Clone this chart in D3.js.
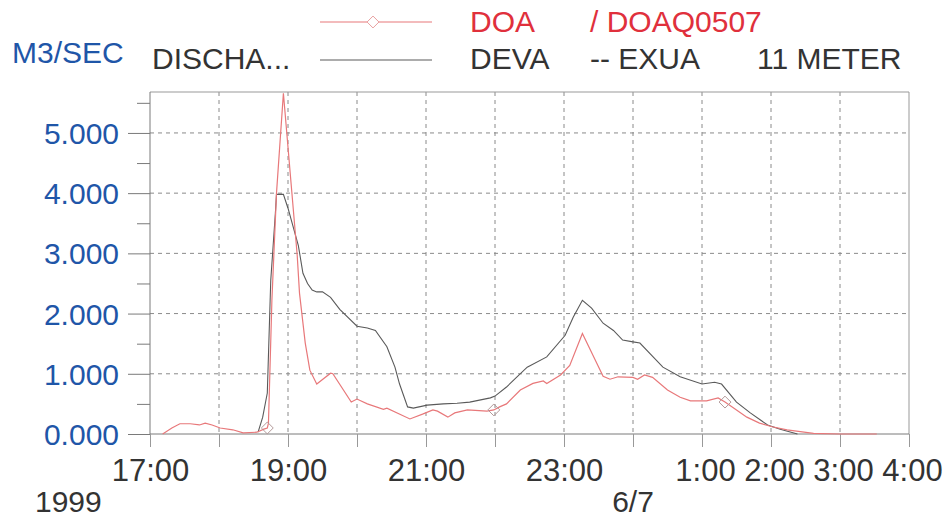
<!DOCTYPE html>
<html><head><meta charset="utf-8">
<script src="https://cdn.jsdelivr.net/npm/d3@7"></script>
<style>
body{margin:0;background:#fff}
text{font-family:"Liberation Sans",Arial,Helvetica,sans-serif}
</style>
</head><body>
<svg id="c" width="943" height="520"></svg>
<script>
// ---- data (thousand m3/s) ----
const doaTimes = ["17:11","17:19","17:26","17:35","17:43","17:48","17:54","18:01","18:12","18:21","18:33","18:39","18:42","18:43","18:46","18:50","18:56","19:08","19:10","19:15","19:19","19:25","19:37","19:39","19:55","20:00","20:09","20:23","20:26","20:46","20:57","21:06","21:10","21:19","21:25","21:36","21:53","21:59","22:04","22:10","22:22","22:33","22:42","22:45","22:57","23:05","23:16","23:34","23:40","23:47","0:00","0:04","0:10","0:17","0:30","0:41","0:50","1:04","1:14","1:20","1:30","1:39","1:50","2:01","2:14","2:37","3:00","3:32"];
const doaValues = [0.00,0.10,0.17,0.17,0.15,0.18,0.15,0.10,0.07,0.02,0.03,0.08,0.10,0.18,2.22,4.00,5.66,2.97,2.34,1.51,1.06,0.83,1.01,1.00,0.53,0.58,0.50,0.41,0.43,0.25,0.33,0.40,0.38,0.28,0.35,0.40,0.38,0.40,0.45,0.50,0.73,0.84,0.88,0.84,0.98,1.14,1.67,0.96,0.91,0.95,0.94,0.91,0.98,0.94,0.73,0.61,0.55,0.55,0.60,0.53,0.40,0.28,0.18,0.12,0.07,0.01,0.00,0.00];
const devaTimes = ["18:34","18:38","18:42","18:45","18:49","18:50","18:56","19:00","19:09","19:13","19:17","19:21","19:25","19:30","19:37","19:45","20:00","20:09","20:16","20:26","20:33","20:37","20:44","20:49","21:01","21:15","21:27","21:38","21:56","22:00","22:10","22:28","22:45","23:01","23:08","23:16","23:24","23:34","23:43","23:51","0:00","0:06","0:26","0:41","1:00","1:11","1:17","1:30","1:42","1:57","2:08","2:23"];
const devaValues = [0.03,0.28,0.68,2.55,3.66,3.98,3.98,3.75,3.13,2.67,2.50,2.39,2.36,2.36,2.27,2.07,1.79,1.76,1.72,1.45,1.11,0.83,0.45,0.43,0.48,0.50,0.51,0.53,0.60,0.63,0.78,1.11,1.28,1.64,1.94,2.22,2.09,1.84,1.72,1.56,1.53,1.51,1.11,0.95,0.83,0.86,0.83,0.53,0.35,0.15,0.08,0.00];
const markerTimes = ["18:42","21:59","1:20"];
const xTickLabels = ["17:00","19:00","21:00","23:00","1:00","2:00","3:00","4:00"];
const yTickValues = [0,1,2,3,4,5];
const yMinorValues = [0.5,1.5,2.5,3.5,4.5,5.5];

// ---- helpers ----
function toDate(s){const [h,m]=s.split(":").map(Number);return new Date(1999,5,h<12?7:6,h,m);}
const doa = doaTimes.map((t,i)=>({t:toDate(t),v:doaValues[i]}));
const deva = devaTimes.map((t,i)=>({t:toDate(t),v:devaValues[i]}));

const svg = d3.select("#c");
const L=150,R=909,T=92,B=434;
const x = d3.scaleTime().domain([toDate("17:00"),toDate("4:00")]).range([L,R]);
const y = d3.scaleLinear().domain([0,5.68]).range([B,T]);

const gridColor="#8a8a8a", axisColor="#7a7a7a";
const blue="#1f56a8", red="#e0303c", dark="#333";

// grid
const hours = d3.timeHour.range(toDate("17:00"), d3.timeMinute.offset(toDate("4:00"),1));
svg.append("g").selectAll("line").data(hours.slice(1,-1)).join("line")
  .attr("x1",d=>x(d)).attr("x2",d=>x(d)).attr("y1",T).attr("y2",B)
  .attr("stroke",gridColor).attr("stroke-width",1).attr("stroke-dasharray","4,4");
svg.append("g").selectAll("line").data(yTickValues.slice(1)).join("line")
  .attr("x1",L).attr("x2",R).attr("y1",d=>y(d)).attr("y2",d=>y(d))
  .attr("stroke",gridColor).attr("stroke-width",1).attr("stroke-dasharray","4,4");

// frame
svg.append("line").attr("x1",L).attr("x2",R).attr("y1",T).attr("y2",T).attr("stroke","#999");
svg.append("line").attr("x1",R).attr("x2",R).attr("y1",T).attr("y2",B).attr("stroke","#999");
svg.append("line").attr("x1",L).attr("x2",L).attr("y1",T).attr("y2",B).attr("stroke",axisColor);
svg.append("line").attr("x1",L).attr("x2",R).attr("y1",B).attr("y2",B).attr("stroke",axisColor);

// y axis
const ya = svg.append("g").attr("transform",`translate(${L},0)`)
  .call(d3.axisLeft(y).tickValues(yTickValues).tickSize(22).tickPadding(9).tickFormat(d3.format(".3f")));
ya.select(".domain").remove();
ya.selectAll(".tick line").attr("stroke",axisColor);
ya.selectAll(".tick text").attr("fill",blue).style("font-size","30px").attr("dy","0.35em");
const ym = svg.append("g").attr("transform",`translate(${L},0)`)
  .call(d3.axisLeft(y).tickValues(yMinorValues).tickSize(13).tickFormat(""));
ym.select(".domain").remove();
ym.selectAll(".tick line").attr("stroke",axisColor);

// x axis
const labelSet = new Set(xTickLabels);
const fmt = d=>{const s=d.getHours()+":00";return labelSet.has(s)?s:"";};
const xa = svg.append("g").attr("transform",`translate(0,${B})`)
  .call(d3.axisBottom(x).tickValues(hours).tickSize(13).tickPadding(12).tickFormat(fmt));
xa.select(".domain").remove();
xa.selectAll(".tick line").attr("stroke","#999");
xa.selectAll(".tick text").attr("fill",dark).style("font-size","31px")
  .attr("dx",function(){return this.textContent.length===4?3:0;});

// date labels
svg.append("text").attr("x",35).attr("y",512).attr("fill",dark).style("font-size","30px").text("1999");
svg.append("text").attr("x",x(toDate("0:00"))).attr("y",512).attr("text-anchor","middle").attr("fill",dark).style("font-size","30px").text("6/7");

// lines
const line = d3.line().x(d=>x(d.t)).y(d=>y(d.v));
svg.append("path").datum(deva).attr("d",line).attr("fill","none").attr("stroke","#5a5a5a").attr("stroke-width",1.1);
svg.append("path").datum(doa).attr("d",line).attr("fill","none").attr("stroke","#e8787a").attr("stroke-width",1.2);

// markers
const diamond = d3.symbol().type(d3.symbolDiamond2).size(90);
const mk = doa.filter(d=>markerTimes.map(toDate).some(t=>+t===+d.t));
svg.append("g").selectAll("path").data(mk).join("path")
  .attr("transform",d=>`translate(${x(d.t)},${y(d.v)})`).attr("d",diamond)
  .attr("fill","none").attr("stroke","#b39a9a").attr("stroke-width",1);

// header / legend
svg.append("text").attr("x",12).attr("y",63).attr("fill",blue).style("font-size","30px").text("M3/SEC");
svg.append("text").attr("x",152).attr("y",69).attr("fill",dark).style("font-size","30px").text("DISCHA...");
svg.append("line").attr("x1",320).attr("x2",432).attr("y1",22).attr("y2",22).attr("stroke","#e8787a").attr("stroke-width",1.2);
svg.append("path").attr("transform","translate(373,22)").attr("d",diamond).attr("fill","#fff").attr("stroke","#e8a0a0");
svg.append("line").attr("x1",320).attr("x2",432).attr("y1",60).attr("y2",60).attr("stroke","#5a5a5a").attr("stroke-width",1.1);
svg.append("text").attr("x",470).attr("y",32).attr("fill",red).style("font-size","30px").text("DOA");
svg.append("text").attr("x",590).attr("y",32).attr("fill",red).style("font-size","30px").text("/ DOAQ0507");
svg.append("text").attr("x",470).attr("y",69).attr("fill",dark).style("font-size","30px").text("DEVA");
svg.append("text").attr("x",590).attr("y",69).attr("fill",dark).style("font-size","30px").text("-- EXUA");
svg.append("text").attr("x",757).attr("y",69).attr("fill",dark).style("font-size","30px").text("11 METER");
</script>
</body></html>
